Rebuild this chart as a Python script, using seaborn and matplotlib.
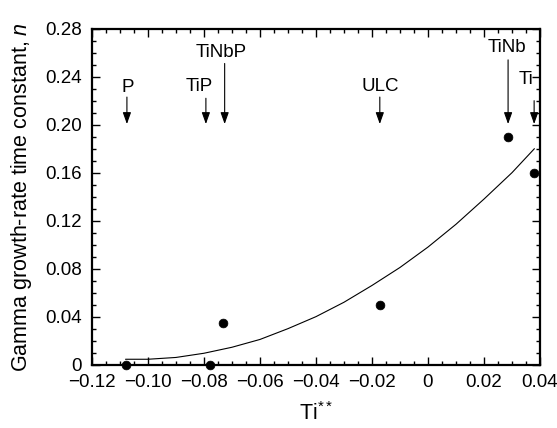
import numpy as np
import pandas as pd
import seaborn as sns
import matplotlib.pyplot as plt
from matplotlib.ticker import MultipleLocator

# Dados
steel = ['P', 'TiP', 'TiNbP', 'ULC', 'TiNb', 'Ti']
ti_star = [-0.108, -0.078, -0.0733, -0.0171, 0.0286, 0.0379]
n_const = [0.0, 0.0, 0.035, 0.050, 0.190, 0.160]

# Curva ajustada
curve_x = [-0.108, -0.10, -0.09, -0.08, -0.07, -0.06, -0.05, -0.04, -0.03,
           -0.02, -0.01, 0.0, 0.01, 0.02, 0.03, 0.038]
curve_y = [0.0045, 0.0045, 0.006, 0.0095, 0.0145, 0.021, 0.030, 0.040, 0.052,
           0.066, 0.081, 0.098, 0.117, 0.138, 0.160, 0.180]

# Setas: posição da seta e do texto
arrow_x = [-0.1075, -0.0793, -0.0726, -0.0172, 0.0286, 0.0379]
arrow_top = [0.223, 0.222, 0.251, 0.223, 0.254, 0.220]
label_x = [-0.1072, -0.0818, -0.0740, -0.0172, 0.0282, 0.0350]
label_y = [0.2306, 0.2315, 0.2600, 0.2320, 0.2640, 0.2380]

x_ticks = [-0.12, -0.10, -0.08, -0.06, -0.04, -0.02, 0.0, 0.02, 0.04]
x_labels = ['\u22120.12', '\u22120.10', '\u22120.08', '\u22120.06', '\u22120.04',
            '\u22120.02', '0', '0.02', '0.04']
y_ticks = [0.0, 0.04, 0.08, 0.12, 0.16, 0.20, 0.24, 0.28]
y_labels = ['0', '0.04', '0.08', '0.12', '0.16', '0.20', '0.24', '0.28']

sns.set_style('ticks')
plt.rcParams['font.family'] = ['Liberation Sans', 'DejaVu Sans']
plt.rcParams['mathtext.fontset'] = 'custom'
plt.rcParams['mathtext.rm'] = 'Liberation Sans'
plt.rcParams['mathtext.it'] = 'Liberation Sans:italic'
plt.rcParams['text.color'] = 'black'
plt.rcParams['axes.labelcolor'] = 'black'

points_df = pd.DataFrame({'Ti': ti_star, 'n': n_const, 'steel': steel})
curve_df = pd.DataFrame({'Ti': curve_x, 'n': curve_y})

fig = plt.figure(figsize=(5.57, 4.28), dpi=100)
ax = fig.add_axes([0.165, 0.148, 0.8045, 0.785])

sns.lineplot(x='Ti', y='n', data=curve_df, color='black', linewidth=0.8, ax=ax, sort=False)
sns.scatterplot(x='Ti', y='n', data=points_df, color='black', s=40, edgecolor='black',
                zorder=5, clip_on=False, ax=ax)

# Rótulos com setas
for name, ax_, top, lx, ly in zip(steel, arrow_x, arrow_top, label_x, label_y):
    ax.annotate('', xy=(ax_, 0.2005), xytext=(ax_, top),
                arrowprops=dict(arrowstyle='-|>,head_length=0.7,head_width=0.25',
                                color='black', lw=0.8, shrinkA=0, shrinkB=0))
    ax.text(lx, ly, name, ha='center', va='center', fontsize=13.5)

ax.set_xlim(-0.12, 0.04)
ax.set_ylim(0, 0.28)
ax.set_xticks(x_ticks)
ax.set_xticklabels(x_labels)
ax.set_yticks(y_ticks)
ax.set_yticklabels(y_labels)
ax.xaxis.set_minor_locator(MultipleLocator(0.005))
ax.yaxis.set_minor_locator(MultipleLocator(0.01))
ax.tick_params(which='both', direction='in', top=True, right=True, labelsize=13.5,
               width=1, colors='black')
ax.tick_params(which='major', length=6, pad=7)
ax.tick_params(which='minor', length=3)
for sp in ax.spines.values():
    sp.set_linewidth(1.6)
    sp.set_color('black')

# Labels
ax.set_xlabel('Ti$^{**}$', fontsize=15.5, labelpad=8)
ax.set_ylabel('Gamma growth-rate time constant, $\\it{n}$', fontsize=15.5, labelpad=8)

plt.savefig('out.png', dpi=100)
